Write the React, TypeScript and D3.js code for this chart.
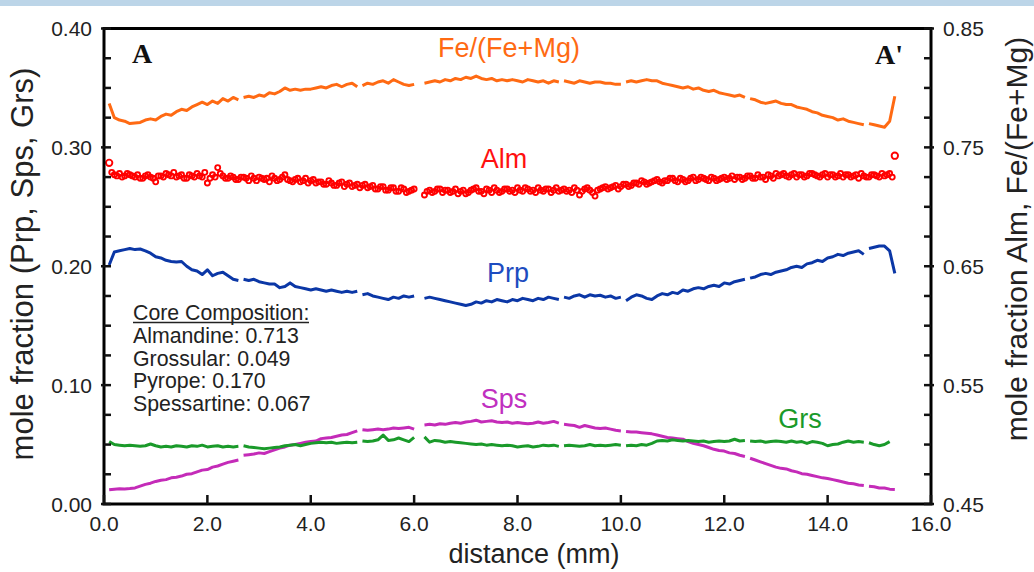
import React from 'react';
import * as d3 from 'd3';

// distance grid (mm): 0.1 .. 15.3, step 0.1
const DIST_START = 0.1;
const DIST_STEP = 0.1;
// second almandine analysis row is offset by half a step
const ALM2_START = 0.15;

// Fe/(Fe+Mg) (right axis)
const FEMG: (number | null)[] = [
  0.787, 0.775, 0.773, 0.772, 0.770, 0.7705, 0.771, 0.773, 0.774, 0.773,
  0.776, 0.778, 0.777, 0.780, 0.782, 0.781, 0.784, 0.786, 0.788, 0.786,
  0.789, 0.787, 0.791, 0.789, 0.792, 0.790, 0.792, 0.793, 0.792, 0.794,
  0.793, 0.796, 0.795, 0.797, 0.800, 0.798, 0.799, 0.798, 0.799, 0.799,
  0.800, 0.801, 0.800, 0.802, 0.803, 0.801, 0.803, 0.804, 0.801, 0.802,
  0.804, 0.803, 0.805, 0.806, 0.804, 0.807, 0.805, 0.803, 0.802, 0.803,
  null, 0.804, 0.805, 0.806, 0.805, 0.807, 0.806, 0.808, 0.807, 0.809,
  0.808, 0.810, 0.808, 0.807, 0.808, 0.806, 0.807, 0.806, 0.807, 0.806,
  0.805, 0.807, 0.806, 0.805, 0.806, 0.804, 0.806, 0.805, 0.806, 0.805,
  0.804, 0.806, 0.805, 0.804, 0.805, 0.805, 0.804, 0.804, 0.803, 0.803,
  0.805, 0.806, 0.805, 0.806, 0.807, 0.806, 0.806, 0.804, 0.803, 0.802,
  0.801, 0.800, 0.801, 0.799, 0.800, 0.798, 0.797, 0.798, 0.796, 0.795,
  0.794, 0.793, 0.794, 0.792, 0.791, 0.790, 0.788, 0.787, 0.788, 0.789,
  0.787, 0.786, 0.786, 0.784, 0.783, 0.782, 0.780, 0.779, 0.777, 0.776,
  0.775, 0.773, 0.774, 0.772, 0.771, 0.770, 0.769, 0.770, 0.769, 0.768,
  0.767, 0.772, 0.793,
];

// Almandine (right axis, markers)
const ALM: (number | null)[] = [
  0.737, 0.727, 0.728, 0.726, 0.727, 0.725, 0.724, 0.726, 0.725, 0.721,
  0.726, 0.728, 0.726, 0.725, 0.727, 0.724, 0.726, 0.728, 0.725, 0.720,
  0.727, 0.733, 0.726, 0.724, 0.725, 0.723, 0.725, 0.722, 0.724, 0.725,
  0.723, 0.721, 0.724, 0.723, 0.727, 0.722, 0.723, 0.721, 0.724, 0.722,
  0.720, 0.721, 0.719, 0.720, 0.718, 0.721, 0.719, 0.717, 0.719, 0.718,
  0.716, 0.718, 0.715, 0.717, 0.714, 0.716, 0.713, 0.715, 0.713, 0.715,
  null, 0.710, 0.714, 0.713, 0.715, 0.714, 0.712, 0.715, 0.713, 0.711,
  0.714, 0.716, 0.713, 0.715, 0.712, 0.714, 0.713, 0.715, 0.714, 0.716,
  0.713, 0.715, 0.714, 0.716, 0.713, 0.715, 0.714, 0.713, 0.715, 0.714,
  0.716, 0.710, 0.715, 0.714, 0.709, 0.715, 0.717, 0.716, 0.718, 0.717,
  0.719, 0.718, 0.720, 0.722, 0.719, 0.721, 0.723, 0.720, 0.722, 0.724,
  0.721, 0.723, 0.722, 0.725, 0.723, 0.724, 0.722, 0.724, 0.723, 0.725,
  0.724, 0.723, 0.725, 0.724, 0.726, 0.724, 0.725, 0.723, 0.726, 0.728,
  0.727, 0.726, 0.727, 0.725, 0.727, 0.726, 0.728, 0.726, 0.727, 0.725,
  0.727, 0.726, 0.725, 0.727, 0.726, 0.724, 0.726, 0.725, 0.727, 0.725,
  0.726, 0.728, 0.743,
];

// Almandine, second (interleaved) row of analyses
const ALM2: (number | null)[] = [
  0.729, 0.726, 0.725, 0.728, 0.726, 0.727, 0.724, 0.727, 0.724, 0.726,
  0.725, 0.727, 0.729, 0.726, 0.724, 0.727, 0.725, 0.726, 0.729, 0.724,
  0.725, 0.728, 0.724, 0.726, 0.723, 0.725, 0.724, 0.726, 0.722, 0.724,
  0.724, 0.726, 0.722, 0.725, 0.723, 0.721, 0.724, 0.722, 0.720, 0.723,
  0.721, 0.719, 0.722, 0.718, 0.720, 0.717, 0.720, 0.718, 0.716, 0.719,
  0.717, 0.715, 0.717, 0.714, 0.716, 0.713, 0.716, 0.712, 0.714, null,
  null, 0.713, 0.712, 0.715, 0.712, 0.714, 0.713, 0.711, 0.714, 0.712,
  0.715, 0.713, 0.711, 0.714, 0.716, 0.712, 0.715, 0.713, 0.712, 0.714,
  0.716, 0.713, 0.712, 0.714, 0.715, 0.712, 0.716, 0.714, 0.713, 0.712,
  0.714, 0.713, 0.716, 0.712, 0.714, 0.716, 0.715, 0.717, 0.715, 0.719,
  0.717, 0.720, 0.719, 0.721, 0.720, 0.722, 0.721, 0.722, 0.724, 0.722,
  0.724, 0.721, 0.724, 0.722, 0.725, 0.723, 0.725, 0.722, 0.724, 0.723,
  0.726, 0.725, 0.723, 0.726, 0.724, 0.727, 0.725, 0.727, 0.724, 0.726,
  0.728, 0.725, 0.728, 0.727, 0.725, 0.728, 0.727, 0.725, 0.728, 0.727,
  0.725, 0.728, 0.727, 0.725, 0.727, 0.728, 0.725, 0.727, 0.726, 0.728,
  0.727, 0.725,
];

// Pyrope (left axis)
const PRP: (number | null)[] = [
  0.201, 0.212, 0.213, 0.214, 0.215, 0.214, 0.2145, 0.213, 0.211, 0.208,
  0.207, 0.205, 0.204, 0.2035, 0.204, 0.200, 0.197, 0.196, 0.193, 0.197,
  0.192, 0.194, 0.195, 0.192, 0.189, 0.188, 0.189, 0.188, 0.189, 0.187,
  0.186, 0.185, 0.185, 0.182, 0.183, 0.186, 0.183, 0.182, 0.181, 0.180,
  0.181, 0.180, 0.179, 0.180, 0.179, 0.178, 0.179, 0.178, 0.179, 0.176,
  0.177, 0.175, 0.174, 0.173, 0.172, 0.174, 0.173, 0.175, 0.174, 0.175,
  null, 0.173, 0.174, 0.173, 0.172, 0.171, 0.170, 0.169, 0.168, 0.167,
  0.168, 0.170, 0.169, 0.171, 0.170, 0.172, 0.171, 0.170, 0.172, 0.171,
  0.173, 0.172, 0.171, 0.173, 0.172, 0.174, 0.173, 0.172, 0.174, 0.173,
  0.175, 0.176, 0.174, 0.176, 0.175, 0.1756, 0.174, 0.175, 0.173, 0.174,
  0.171, 0.174, 0.176, 0.175, 0.173, 0.172, 0.175, 0.177, 0.176, 0.178,
  0.177, 0.180, 0.179, 0.181, 0.182, 0.181, 0.183, 0.184, 0.183, 0.186,
  0.185, 0.187, 0.188, 0.189, 0.190, 0.191, 0.193, 0.194, 0.193, 0.195,
  0.196, 0.197, 0.199, 0.200, 0.199, 0.202, 0.203, 0.205, 0.204, 0.207,
  0.208, 0.210, 0.209, 0.211, 0.212, 0.213, 0.210, 0.215, 0.216, 0.217,
  0.217, 0.213, 0.194,
];

// Spessartine (left axis)
const SPS: (number | null)[] = [
  0.012, 0.0125, 0.0128, 0.0127, 0.013, 0.0135, 0.015, 0.0165, 0.0175, 0.019,
  0.020, 0.0205, 0.022, 0.0225, 0.0235, 0.025, 0.0255, 0.027, 0.0285, 0.029,
  0.031, 0.032, 0.0335, 0.035, 0.036, 0.037, 0.041, 0.0415, 0.042, 0.043,
  0.0425, 0.044, 0.0455, 0.047, 0.048, 0.0495, 0.050, 0.051, 0.052, 0.0525,
  0.053, 0.055, 0.0555, 0.056, 0.057, 0.058, 0.0585, 0.060, 0.0615, 0.0625,
  0.062, 0.0625, 0.063, 0.0625, 0.063, 0.064, 0.0635, 0.064, 0.0645, 0.063,
  null, 0.0665, 0.067, 0.0665, 0.0675, 0.067, 0.068, 0.0685, 0.068, 0.069,
  0.0695, 0.0705, 0.069, 0.0695, 0.070, 0.069, 0.0685, 0.069, 0.068, 0.0685,
  0.068, 0.0675, 0.068, 0.069, 0.068, 0.0685, 0.0695, 0.068, 0.067, 0.0665,
  0.066, 0.0645, 0.066, 0.065, 0.064, 0.0635, 0.064, 0.063, 0.062, 0.0615,
  0.061, 0.0605, 0.0605, 0.060, 0.0595, 0.059, 0.058, 0.057, 0.056, 0.0555,
  0.055, 0.0545, 0.0525, 0.051, 0.050, 0.049, 0.0475, 0.046, 0.045, 0.0445,
  0.043, 0.0425, 0.041, 0.040, 0.0385, 0.037, 0.0355, 0.034, 0.0325, 0.031,
  0.030, 0.0295, 0.028, 0.027, 0.0255, 0.025, 0.024, 0.023, 0.022, 0.0215,
  0.0205, 0.0195, 0.0185, 0.0175, 0.017, 0.016, 0.0155, 0.015, 0.0145, 0.0135,
  0.0135, 0.0125, 0.0123,
];

// Grossular (left axis)
const GRS: (number | null)[] = [
  0.0525, 0.050, 0.0495, 0.049, 0.0495, 0.049, 0.0485, 0.049, 0.0505, 0.049,
  0.048, 0.0485, 0.048, 0.049, 0.0485, 0.048, 0.049, 0.0485, 0.0495, 0.048,
  0.0485, 0.049, 0.048, 0.0485, 0.048, 0.0485, 0.049, 0.048, 0.0475, 0.047,
  0.0465, 0.047, 0.0475, 0.048, 0.049, 0.0495, 0.050, 0.049, 0.050, 0.051,
  0.0515, 0.052, 0.0515, 0.052, 0.051, 0.0515, 0.052, 0.0515, 0.052, 0.053,
  0.0525, 0.053, 0.054, 0.058, 0.0535, 0.054, 0.0555, 0.054, 0.0525, 0.056,
  null, 0.0565, 0.052, 0.0535, 0.053, 0.052, 0.0525, 0.052, 0.0515, 0.051,
  0.0505, 0.050, 0.0505, 0.0495, 0.050, 0.0495, 0.049, 0.0495, 0.049, 0.048,
  0.0485, 0.049, 0.048, 0.0485, 0.0495, 0.049, 0.0495, 0.0485, 0.049, 0.0495,
  0.049, 0.0485, 0.049, 0.050, 0.049, 0.0495, 0.049, 0.0495, 0.050, 0.0495,
  0.049, 0.0495, 0.049, 0.050, 0.0495, 0.051, 0.053, 0.0535, 0.053, 0.054,
  0.0535, 0.053, 0.0535, 0.053, 0.0525, 0.053, 0.052, 0.0525, 0.053, 0.0525,
  0.053, 0.0545, 0.053, 0.0535, 0.053, 0.0525, 0.053, 0.052, 0.0525, 0.053,
  0.0525, 0.052, 0.053, 0.052, 0.0525, 0.051, 0.0525, 0.052, 0.051, 0.049,
  0.050, 0.0505, 0.052, 0.053, 0.052, 0.0525, 0.052, 0.0515, 0.050, 0.049,
  0.050, 0.0525, null,
];

// line is broken after these distances (analysis segments)
const BREAK_AFTER = [2.6, 4.9, 8.8, 10.0, 12.4, 14.7];

const X_TICKS = [0, 2, 4, 6, 8, 10, 12, 14, 16];
const LEFT_LABELS = [0, 0.1, 0.2, 0.3, 0.4];
const RIGHT_LABELS = [0.45, 0.55, 0.65, 0.75, 0.85];

const CORE_LINES = ['Almandine: 0.713', 'Grossular: 0.049', 'Pyrope: 0.170', 'Spessartine: 0.067'];

const FONT = "'Liberation Sans', Arial, sans-serif";
const SERIF = "'Liberation Serif', 'Times New Roman', serif";

export default function App() {
  const W = 1034, H = 572;
  const L = 104, R = 931, T = 28.5, B = 504;
  const x = d3.scaleLinear().domain([0, 16]).range([L, R]);
  const yL = d3.scaleLinear().domain([0, 0.4]).range([B, T]);
  const yR = d3.scaleLinear().domain([0.45, 0.85]).range([B, T]);
  const dist = (i: number) => Math.round((DIST_START + DIST_STEP * i) * 10) / 10;
  const dist2 = (i: number) => Math.round((ALM2_START + DIST_STEP * i) * 100) / 100;

  const makePath = (vals: (number | null)[], y: d3.ScaleLinear<number, number>) => {
    const pts: [number, number | null][] = [];
    vals.forEach((v, i) => {
      const d = dist(i);
      pts.push([d, v]);
      if (BREAK_AFTER.includes(d)) pts.push([d, null]);
    });
    return d3.line<[number, number | null]>()
      .defined(p => p[1] != null)
      .x(p => x(p[0]))
      .y(p => y(p[1] as number))(pts) || '';
  };

  const minorL = d3.range(0, 17).map(i => i * 0.025);
  const minorR = d3.range(0, 17).map(i => 0.45 + i * 0.025);

  const tickColor = '#111';
  const txt = '#222';
  const red = '#ff0000';

  return (
    <svg width={W} height={H} style={{ position: 'absolute', left: 0, top: 0, background: '#fff' }}>
      <rect x={0} y={0} width={W} height={H} fill="#fff" />
      <rect x={0} y={0} width={W} height={6} fill="#bcd5e8" />

      {/* series */}
      <path d={makePath(FEMG, yR)} fill="none" stroke="#ff6a13" strokeWidth={3} strokeLinejoin="round" />
      <path d={makePath(PRP, yL)} fill="none" stroke="#0b37a6" strokeWidth={3} strokeLinejoin="round" />
      <path d={makePath(SPS, yL)} fill="none" stroke="#c42bb8" strokeWidth={3} strokeLinejoin="round" />
      <path d={makePath(GRS, yL)} fill="none" stroke="#1a9a2a" strokeWidth={3} strokeLinejoin="round" />
      {ALM2.map((v, i) => v == null ? null : (
        <circle key={'b' + i} cx={x(dist2(i))} cy={yR(v)} r={2.5}
          fill="none" stroke={red} strokeWidth={1.9} />
      ))}
      {ALM.map((v, i) => v == null ? null : (
        <circle key={'a' + i} cx={x(dist(i))} cy={yR(v)} r={i === 0 || i === ALM.length - 1 ? 3.2 : 2.5}
          fill="none" stroke={red} strokeWidth={1.9} />
      ))}

      {/* frame */}
      <rect x={L} y={T} width={R - L} height={B - T} fill="none" stroke="#000" strokeWidth={3} />

      {/* ticks */}
      {minorL.map((v, i) => {
        const major = i % 4 === 0;
        return <line key={'l' + i} x1={major ? L - 3 : L} x2={L + 7} y1={yL(v)} y2={yL(v)} stroke={tickColor} strokeWidth={2.5} />;
      })}
      {minorR.map((v, i) => {
        const major = i % 4 === 0;
        return <line key={'r' + i} x1={R - 7} x2={major ? R + 3 : R} y1={yR(v)} y2={yR(v)} stroke={tickColor} strokeWidth={2.5} />;
      })}
      {X_TICKS.map(t => (
        <line key={'x' + t} x1={x(t)} x2={x(t)} y1={B} y2={B - 9} stroke={tickColor} strokeWidth={2.5} />
      ))}

      {/* tick labels */}
      <g fontFamily={FONT} fontSize={21} fill={txt}>
        {LEFT_LABELS.map(v => (
          <text key={'ll' + v} x={92} y={yL(v) + 7.5} textAnchor="end">{v.toFixed(2)}</text>
        ))}
        {RIGHT_LABELS.map(v => (
          <text key={'rl' + v} x={943} y={yR(v) + 7.5} textAnchor="start">{v.toFixed(2)}</text>
        ))}
        {X_TICKS.map(t => (
          <text key={'xl' + t} x={x(t)} y={531} textAnchor="middle">{t.toFixed(1)}</text>
        ))}
      </g>

      {/* axis titles */}
      <g fontFamily={FONT} fill={txt}>
        <text x={534} y={563} fontSize={27} textAnchor="middle">distance (mm)</text>
        <text transform="translate(33,264) rotate(-90)" fontSize={31} textAnchor="middle">mole fraction (Prp, Sps, Grs)</text>
        <text transform="translate(1027,239) rotate(-90)" fontSize={30} textAnchor="middle">mole fraction Alm, Fe/(Fe+Mg)</text>
      </g>

      {/* A / A' */}
      <text x={132} y={63} fontFamily={SERIF} fontWeight="bold" fontSize={28} fill="#111">A</text>
      <text x={903} y={64} fontFamily={SERIF} fontWeight="bold" fontSize={28} fill="#111" textAnchor="end">A'</text>

      {/* series labels */}
      <g fontFamily={FONT} fontSize={27} textAnchor="middle">
        <text x={509} y={57} fill="#ff6a13">Fe/(Fe+Mg)</text>
        <text x={504} y={168} fill="#ff1010">Alm</text>
        <text x={508} y={282} fill="#1d4cc0">Prp</text>
        <text x={504} y={408} fill="#c030c0">Sps</text>
        <text x={800} y={428} fill="#1a9a2a">Grs</text>
      </g>

      {/* core composition */}
      <g fontFamily={FONT} fontSize={21.3} fill={txt}>
        <text x={133} y={320}>Core Composition:</text>
        <line x1={133} x2={309} y1={322.5} y2={322.5} stroke={txt} strokeWidth={1.5} />
        {CORE_LINES.map((s, i) => (
          <text key={s} x={133} y={343 + i * 22.5}>{s}</text>
        ))}
      </g>
    </svg>
  );
}
